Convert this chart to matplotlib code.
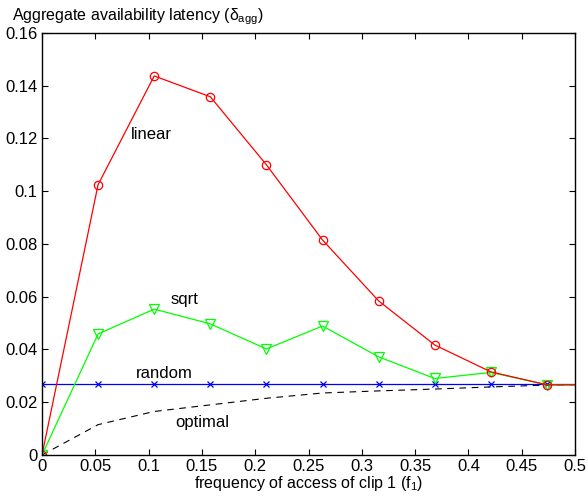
import matplotlib
matplotlib.use("Agg")
import matplotlib.pyplot as plt
import numpy as np

plt.rcParams['font.family'] = ['Liberation Sans', 'DejaVu Sans']
plt.rcParams['mathtext.fontset'] = 'custom'
plt.rcParams['mathtext.rm'] = 'Liberation Sans'
plt.rcParams['mathtext.it'] = 'Liberation Sans'

# data
f1 = [0, 1/19, 2/19, 3/19, 4/19, 5/19, 6/19, 7/19, 8/19, 9/19, 0.5]
linear = [0, 0.1025, 0.1437, 0.1358, 0.1100, 0.0815, 0.0584, 0.0417, 0.0315, 0.0266, 0.0266]
sqrt_ = [0, 0.0459, 0.0553, 0.0497, 0.0402, 0.0489, 0.0372, 0.0290, 0.0313, 0.0266, 0.0266]
random_ = [0.0268] * 11
optimal = [0, 0.0115, 0.0165, 0.0190, 0.0215, 0.0235, 0.0243, 0.0250, 0.0258, 0.0265, 0.0267]

xticks = [0, 0.05, 0.1, 0.15, 0.2, 0.25, 0.3, 0.35, 0.4, 0.45, 0.5]
xticklabels = ['0', '0.05', '0.1', '0.15', '0.2', '0.25', '0.3', '0.35', '0.4', '0.45', '0.5']
yticks = [0, 0.02, 0.04, 0.06, 0.08, 0.1, 0.12, 0.14, 0.16]
yticklabels = ['0', '0.02', '0.04', '0.06', '0.08', '0.1', '0.12', '0.14', '0.16']

fig = plt.figure(figsize=(5.88, 4.99), dpi=100)
ax = fig.add_axes([0.0714, 0.0882, 0.9066, 0.8458])

marks = list(range(10))  # no marker on the end point at 0.5
ax.plot(f1, optimal, 'k--', lw=0.8, dashes=(6, 5))
ax.plot(f1, random_, color='blue', lw=0.9, marker='x', ms=4, mew=0.9, markevery=marks)
ax.plot(f1, sqrt_, color=(0, 1, 0), lw=0.9, marker='v', ms=7, mfc='none', mew=0.9, markevery=marks)
ax.plot(f1, linear, color='red', lw=0.9, marker='o', ms=6, mfc='none', mew=0.9, markevery=marks)

ax.text(0.103, 0.1215, 'linear', fontsize=12, ha='center', va='center')
ax.text(0.134, 0.0588, 'sqrt', fontsize=12, ha='center', va='center')
ax.text(0.115, 0.0310, 'random', fontsize=12, ha='center', va='center')
ax.text(0.150, 0.0125, 'optimal', fontsize=12, ha='center', va='center')

ax.set_xlim(0, 0.5)
ax.set_ylim(0, 0.16)
ax.set_xticks(xticks)
ax.set_xticklabels(xticklabels, fontsize=12)
ax.set_yticks(yticks)
ax.set_yticklabels(yticklabels, fontsize=12)
ax.tick_params(direction='in', top=True, right=True, length=4, width=0.8, pad=3)
for s in ax.spines.values():
    s.set_linewidth(1.0)

ax.set_xlabel(r'frequency of access of clip 1 (f$_\mathrm{1}$)', fontsize=11.5, labelpad=0)
fig.text(0.02, 0.966, r'Aggregate availability latency ($\delta_\mathrm{agg}$)', fontsize=11.5, ha='left', va='center')

fig.savefig('out.png', dpi=100)
